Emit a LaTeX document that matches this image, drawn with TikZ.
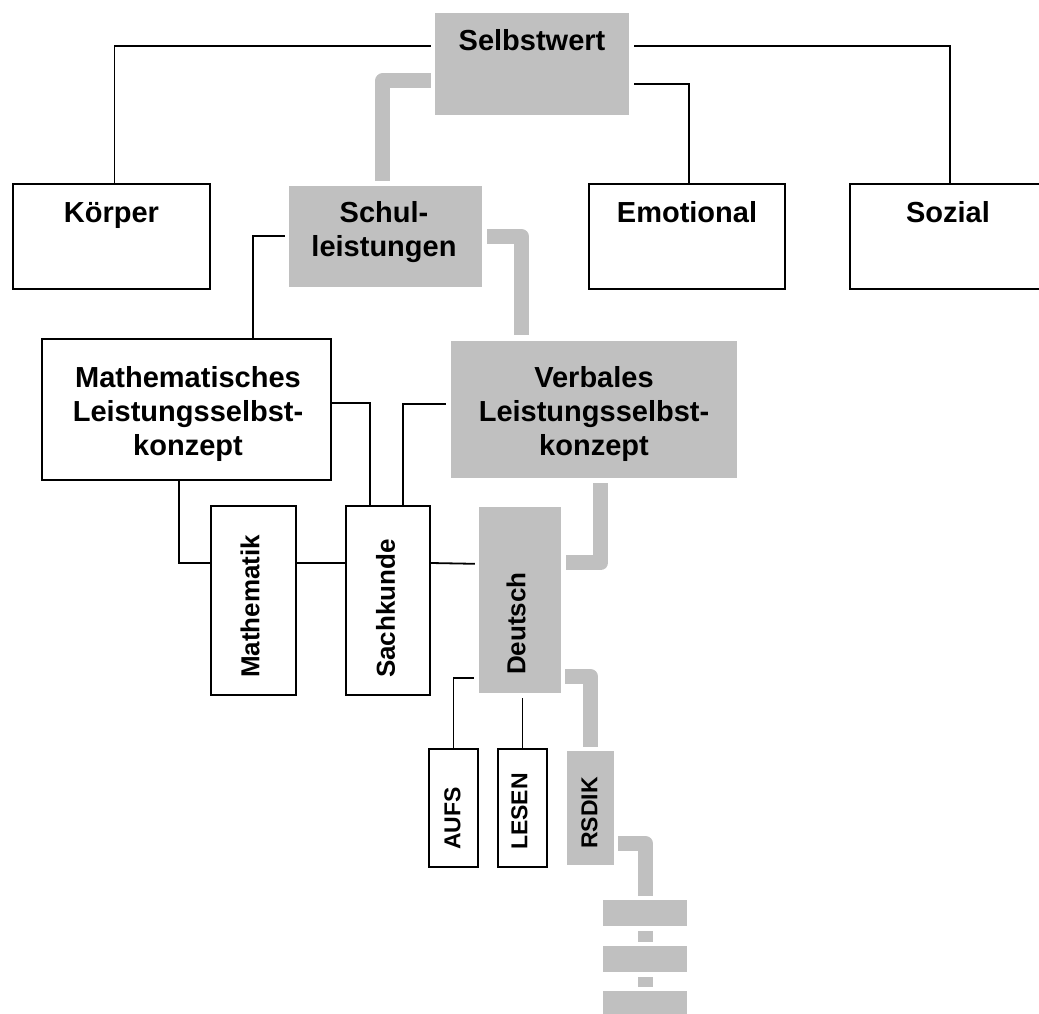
\documentclass[tikz,border=0pt]{standalone}
\usepackage{fontspec}
\setmainfont{Liberation Sans}
\usetikzlibrary{calc}
\definecolor{boxgray}{HTML}{C0C0C0}
\begin{document}
\begin{tikzpicture}[x=1pt,y=-1pt,
  sz/.style 2 args={minimum width=#1pt, minimum height=#2pt},
  wbox/.style={draw=black, line width=2pt, fill=white, inner sep=0pt},
  gbox/.style={fill=boxgray, draw=none, inner sep=0pt},
  thinline/.style={line width=1.8pt, draw=black},
  gline/.style={line width=15pt, draw=boxgray, line join=round},
  txt/.style={inner sep=0pt, font=\fontsize{29}{34}\selectfont\bfseries},
  rtxt/.style={inner sep=0pt, rotate=90, anchor=west, font=\fontsize{26}{30}\selectfont\bfseries},
  stxt/.style={rtxt, font=\fontsize{23}{27}\selectfont\bfseries}]
\useasboundingbox (0,0) rectangle (1039,1013);
\clip (0,0) rectangle (1039,1013);

% boxes
\node[gbox, sz={194}{102}] (sw) at (532,64) {};
\node[wbox, sz={197}{105}] (koerper) at (111.5,236.5) {};
\node[gbox, sz={193}{101}] (schul) at (385.5,236.5) {};
\node[wbox, sz={196}{105}] (emo) at (687,236.5) {};
\node[wbox, sz={196}{105}] (sozial) at (948,236.5) {};
\node[wbox, sz={289}{141}] (math) at (186.5,409.5) {};
\node[gbox, sz={286}{137}] (verb) at (594,409.5) {};
\node[wbox, sz={85}{189}] (mathe) at (253.5,600.5) {};
\node[wbox, sz={84}{189}] (sach) at (388,600.5) {};
\node[gbox, sz={82}{186}] (deutsch) at (520,600) {};
\node[wbox, sz={49}{118}] (aufs) at (453.5,808) {};
\node[wbox, sz={49}{118}] (lesen) at (522.5,808) {};
\node[gbox, sz={47}{114}] (rsdik) at (590.5,808) {};
\node[gbox, sz={84}{26}] (s1) at (645,913) {};
\node[gbox, sz={84}{26}] (s2) at (645,959) {};
\node[gbox, sz={84}{26}] (s3) at (645,1004) {};

% texts
\node[txt, anchor=base] (tsw) at (532,50) {Selbstwert};
\node[txt, anchor=base] (tkoerper) at (111.5,222) {Körper};
\node[txt, anchor=base] (temo) at (687,222) {Emotional};
\node[txt, anchor=base] (tsozial) at (948,222) {Sozial};
\node[txt, anchor=north, align=center] (tschul) at (384,201) {Schul-\\leistungen};
\node[txt, anchor=north, align=center] (tmath) at (188,366) {Mathematisches\\Leistungsselbst-\\konzept};
\node[txt, anchor=north, align=center] (tverb) at (594,366) {Verbales\\Leistungsselbst-\\konzept};
\node[rtxt] (tmathe) at (250,678) {Mathematik};
\node[rtxt] (tsach) at (385.5,678) {Sachkunde};
\node[rtxt] (tdeutsch) at (516,675) {Deutsch};
\node[stxt] (taufs) at (452.5,850) {AUFS};
\node[stxt] (tlesen) at (519.5,850) {LESEN};
\node[stxt] (trsdik) at (589.5,849) {RSDIK};

% thin connectors
\draw[thinline] ($(sw.north west)+(-4,33)$) -| ($(koerper.north)+(3,0)$);
\draw[thinline] ($(sw.north east)+(5,33)$) -| ($(sozial.north west)+(101,0)$);
\draw[thinline] ($(sw.north east)+(5,71)$) -| ($(emo.north west)+(101,0)$);
\draw[thinline] ($(schul.north west)+(-4,50)$) -| ($(math.north west)+(212,0)$);
\draw[thinline] ($(math.north east)+(0,65)$) -| ($(sach.north west)+(25,0)$);
\draw[thinline] ($(verb.north west)+(-5,63)$) -| ($(sach.north west)+(58,0)$);
\draw[thinline] ($(math.south west)+(138,0)$) |- ($(mathe.north west)+(0,58)$);
\draw[thinline] ($(mathe.north east)+(0,58)$) -- ($(sach.north west)+(0,58)$);
\draw[thinline] ($(sach.north east)+(0,58)$) -- ($(deutsch.north west)+(-4,57)$);
\draw[thinline] ($(deutsch.north west)+(-5,171)$) -| (aufs.north);
\draw[thinline] ($(lesen.north |- deutsch.south)+(0,5)$) -- (lesen.north);

% thick gray connectors
\draw[gline] ($(sw.north west)+(-4,68)$) -| ($(schul.north west)+(94,-5)$);
\draw[gline] ($(schul.north east)+(5,51)$) -| ($(verb.north west)+(71,-6)$);
\draw[gline] ($(verb.south west)+(150,5)$) |- ($(deutsch.north east)+(5,56)$);
\draw[gline] ($(deutsch.north east)+(4,170)$) -| ($(rsdik.north west)+(24,-4)$);
\draw[gline] ($(rsdik.north east)+(4,93)$) -| ($(s1.north west)+(43,-4)$);
\draw[gline] ($(s1.south)+(0,5)$) -- ($(s2.north)+(0,-4)$);
\draw[gline] ($(s2.south)+(0,5)$) -- ($(s3.north)+(0,-4)$);
\end{tikzpicture}
\end{document}
